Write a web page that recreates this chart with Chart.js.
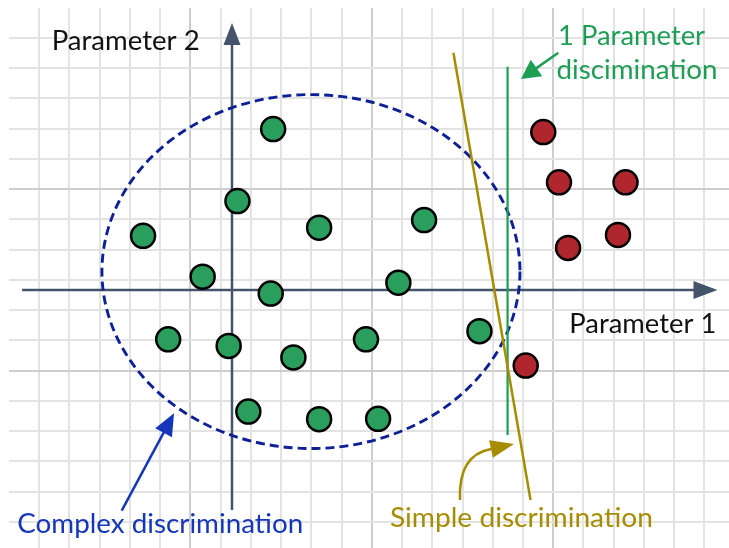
<!DOCTYPE html>
<html><head><meta charset="utf-8">
<script src="https://cdn.jsdelivr.net/npm/chart.js@4.4.1/dist/chart.umd.min.js"></script>
<style>html,body{margin:0;padding:0;background:#fff;overflow:hidden}canvas{display:block}</style>
</head><body>
<canvas id="c" width="729" height="548"></canvas>
<script>
// ---- data (units: one grid cell, origin at the axes' crossing) ----
const greenX = [1.36, 0.18, -2.94, 2.88, 6.35, -0.97, 1.28, 5.50, -2.11, -0.11, 2.03, 4.43, 8.18, 0.54, 2.88, 4.83];
const greenY = [5.32, 2.94, 1.79, 2.06, 2.31, 0.44, -0.12, 0.24, -1.63, -1.85, -2.23, -1.63, -1.36, -4.02, -4.27, -4.26];
const redX = [10.29, 10.81, 13.01, 11.11, 12.76, 9.71];
const redY = [5.22, 3.56, 3.56, 1.39, 1.82, -2.50];
const simpleLineX = [7.32, 9.87];
const simpleLineY = [7.84, -6.94];
const oneParamLineX = [9.11, 9.11];
const oneParamLineY = [7.38, -4.79];
const ellipseCenter = [2.61, 0.61];
const ellipseRadii = [6.91, 5.85];
const axisXExtent = [-6.94, 16.05];
const axisYExtent = [-7.27, 8.83];
const xRange = [-7.372, 16.430];
const yRange = [-8.529, 9.322];
const gridX = [-6.380, 23];   // first gridline, count
const gridY = [8.331, 17];
const axisTitles = ['Parameter 1', 'Parameter 2'];
const noteTexts = ['1 Parameter', 'discimination', 'Complex discrimination', 'Simple discrimination'];

// ---- layout / styles ----
const C_AXIS = '#44546A', C_GREEN = '#1E9E55', C_BLUE = '#1536B8', C_NAVY = '#0E2096', C_GOLD = '#A68C00';
const texts = [
  {t: axisTitles[1], x: -5.96, y: 7.93, w: 148, c: '#111111'},
  {t: axisTitles[0], x: 11.15, y: -1.43, w: 147, c: '#111111'},
  {t: noteTexts[0], x: 10.78, y: 8.11, w: 147, c: C_GREEN},
  {t: noteTexts[1], x: 10.73, y: 6.965, w: 161, c: C_GREEN},
  {t: noteTexts[2], x: -7.10, y: -8.03, w: 286, c: C_BLUE},
  {t: noteTexts[3], x: 5.22, y: -7.835, w: 263, c: C_GOLD}
];
const greenArrow = [[10.787, 7.845], [9.554, 6.975]];
const blueArrow = [[-3.646, -7.296], [-1.917, -4.076]];
const goldCurve = [[7.537, -6.942], [7.471, -5.455], [8.562, -5.256], [9.322, -5.091]];

function head(ctx, bx, by, tx, ty, hw) {
  const dx = tx - bx, dy = ty - by, L = Math.hypot(dx, dy), nx = -dy / L, ny = dx / L;
  ctx.beginPath();
  ctx.moveTo(tx, ty);
  ctx.lineTo(bx + nx * hw, by + ny * hw);
  ctx.lineTo(bx - nx * hw, by - ny * hw);
  ctx.closePath();
  ctx.fill();
}
function arrow(ctx, x0, y0, x1, y1, L, hw) {
  const d = Math.hypot(x1 - x0, y1 - y0), ux = (x1 - x0) / d, uy = (y1 - y0) / d;
  const bx = x1 - ux * L, by = y1 - uy * L;
  ctx.beginPath(); ctx.moveTo(x0, y0); ctx.lineTo(bx + ux, by + uy); ctx.stroke();
  head(ctx, bx, by, x1, y1, hw);
}

const overlay = {
  id: 'overlay',
  beforeDatasetsDraw(chart) {
    const {ctx, scales: {x, y}} = chart;
    const px = v => x.getPixelForValue(v), py = v => y.getPixelForValue(v);
    ctx.save();
    ctx.strokeStyle = C_AXIS; ctx.fillStyle = C_AXIS; ctx.lineWidth = 2.5;
    arrow(ctx, px(axisXExtent[0]), py(0), px(axisXExtent[1]), py(0), 24, 9);
    arrow(ctx, px(0), py(axisYExtent[0]), px(0), py(axisYExtent[1]), 22, 8.5);
    // ellipse
    const cx = px(ellipseCenter[0]), cy = py(ellipseCenter[1]);
    const rx = px(ellipseCenter[0] + ellipseRadii[0]) - cx, ry = cy - py(ellipseCenter[1] + ellipseRadii[1]);
    ctx.strokeStyle = C_NAVY; ctx.lineWidth = 2.9; ctx.setLineDash([9, 5]);
    ctx.beginPath(); ctx.ellipse(cx, cy, rx, ry, 0, 0, Math.PI * 2); ctx.stroke();
    ctx.restore();
  },
  afterDatasetsDraw(chart) {
    const {ctx, scales: {x, y}} = chart;
    const px = v => x.getPixelForValue(v), py = v => y.getPixelForValue(v);
    ctx.save();
    ctx.lineWidth = 2.5;
    ctx.strokeStyle = C_GREEN; ctx.fillStyle = C_GREEN;
    arrow(ctx, px(greenArrow[0][0]), py(greenArrow[0][1]), px(greenArrow[1][0]), py(greenArrow[1][1]), 19, 10);
    ctx.strokeStyle = C_BLUE; ctx.fillStyle = C_BLUE;
    arrow(ctx, px(blueArrow[0][0]), py(blueArrow[0][1]), px(blueArrow[1][0]), py(blueArrow[1][1]), 22, 9.5);
    ctx.strokeStyle = C_GOLD; ctx.fillStyle = C_GOLD;
    const g = goldCurve.map(p => [px(p[0]), py(p[1])]);
    ctx.beginPath(); ctx.moveTo(g[0][0], g[0][1]); ctx.quadraticCurveTo(g[1][0], g[1][1], g[2][0], g[2][1]); ctx.stroke();
    head(ctx, g[2][0], g[2][1], g[3][0], g[3][1], 9);
    // texts
    ctx.textBaseline = 'alphabetic'; ctx.textAlign = 'left';
    ctx.font = '26px Lato';
    texts.forEach(o => {
      const w = ctx.measureText(o.t).width;
      ctx.save();
      ctx.translate(px(o.x), py(o.y));
      ctx.scale(o.w / w, 1);
      ctx.fillStyle = o.c;
      ctx.fillText(o.t, 0, 0);
      ctx.restore();
    });
    ctx.restore();
  }
};

const toPts = (xs, ys) => xs.map((v, i) => ({x: v, y: ys[i]}));
const gridTicks = (g, dir) => Array.from({length: g[1]}, (_, k) => ({value: g[0] + dir * k}));
const gridColor = c => (c.index % 6 === 5) ? '#CDCDCD' : '#E3E3E3';

new Chart(document.getElementById('c'), {
  type: 'scatter',
  data: {
    datasets: [
      {label: 'Class A', data: toPts(greenX, greenY), backgroundColor: '#2A9E5C', borderColor: '#000', borderWidth: 2.5, pointRadius: 12, order: 1},
      {label: 'Class B', data: toPts(redX, redY), backgroundColor: '#B0262F', borderColor: '#000', borderWidth: 2.5, pointRadius: 12, order: 1},
      {label: 'Simple discrimination', data: toPts(simpleLineX, simpleLineY), showLine: true, borderColor: C_GOLD, borderWidth: 2.5, pointRadius: 0, order: 2},
      {label: '1 Parameter discimination', data: toPts(oneParamLineX, oneParamLineY), showLine: true, borderColor: C_GREEN, borderWidth: 2.2, pointRadius: 0, order: 2}
    ]
  },
  options: {
    responsive: false, animation: false, devicePixelRatio: 1,
    layout: {autoPadding: false, padding: {left: 9, top: 8, right: 0, bottom: 0}},
    plugins: {legend: {display: false}, tooltip: {enabled: false}},
    scales: {
      x: {type: 'linear', min: xRange[0], max: xRange[1],
          afterBuildTicks: s => { s.ticks = gridTicks(gridX, 1); },
          ticks: {display: false}, border: {display: false},
          grid: {drawTicks: false, color: gridColor, lineWidth: 2}},
      y: {type: 'linear', min: yRange[0], max: yRange[1],
          afterBuildTicks: s => { s.ticks = gridTicks(gridY, -1); },
          ticks: {display: false}, border: {display: false},
          grid: {drawTicks: false, color: gridColor, lineWidth: 2}}
    }
  },
  plugins: [overlay]
});
</script>
</body></html>
